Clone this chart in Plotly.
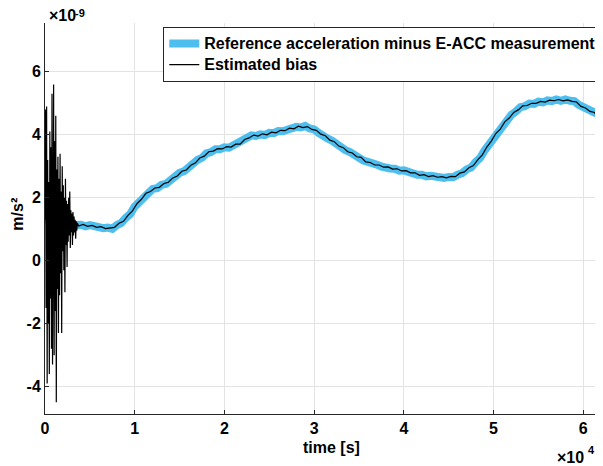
import numpy as np
import plotly.graph_objects as go

# Reference acceleration minus E-ACC measurement (units 1e-9 m/s^2), sampled every 500 s from t=0
ref_step = 500
ref_vals = [
    1.32, 1.27, 1.26, 1.20, 1.22, 1.17, 1.18, 1.13, 1.14, 1.09,
    1.13, 1.08, 1.09, 1.03, 1.05, 1.01, 1.13, 1.20, 1.36, 1.48,
    1.72, 1.86, 2.08, 2.16, 2.28, 2.30, 2.41, 2.44, 2.58, 2.64,
    2.79, 2.84, 2.97, 3.04, 3.20, 3.27, 3.41, 3.45, 3.54, 3.54,
    3.60, 3.59, 3.67, 3.68, 3.78, 3.86, 3.98, 3.96, 4.01, 3.99,
    4.06, 4.05, 4.12, 4.11, 4.18, 4.19, 4.25, 4.23, 4.28, 4.20,
    4.17, 4.06, 4.00, 3.88, 3.81, 3.69, 3.63, 3.51, 3.45, 3.34,
    3.29, 3.18, 3.14, 3.06, 3.05, 2.99, 2.99, 2.93, 2.92, 2.86,
    2.87, 2.81, 2.80, 2.73, 2.73, 2.68, 2.70, 2.66, 2.67, 2.63,
    2.66, 2.65, 2.73, 2.78, 2.90, 2.96, 3.13, 3.26, 3.50, 3.68,
    3.96, 4.08, 4.32, 4.45, 4.64, 4.74, 4.88, 4.91, 4.99, 4.98,
    5.05, 5.03, 5.09, 5.07, 5.12, 5.08, 5.12, 5.08, 5.07, 4.95,
    4.88, 4.77, 4.73, 4.64, 4.60,
]

# Estimated bias: early convergence transient, sampled every 60 s from t=0
bias_early_step = 60
bias_early_vals = [
    1.3, 4.8, -1.5, 4.9, -3.9, 3.2, -2.0, 2.5, -3.6, 4.1,
    -1.2, 3.6, -2.8, 5.3, -3.3, 2.0, 5.6, -3.0, 3.8, -1.6,
    4.6, -4.5, 2.9, -0.9, 3.3, -2.3, 2.6, -1.1, 3.4, -0.4,
    2.2, -2.3, 3.0, 0.3, 2.4, -0.3, 2.0, -1.0, 2.6, 0.5,
    1.9, -0.2, 1.8, 0.6, 2.0, 0.8, 2.2, 0.4, 1.6, 0.9,
    1.5, 0.5, 1.55, 0.8, 1.4, 0.9, 1.3, 0.7, 1.25, 0.95,
    1.2,
]

# Estimated bias after convergence, sampled every 500 s from t=3750
bias_late_start = 3750
bias_late_step = 500
bias_late_vals = [
    1.10, 1.15, 1.09, 1.12, 1.06, 1.08, 1.02, 1.05, 1.06, 1.19,
    1.25, 1.44, 1.58, 1.81, 1.95, 2.14, 2.20, 2.31, 2.33, 2.45,
    2.49, 2.63, 2.69, 2.84, 2.88, 3.03, 3.10, 3.26, 3.32, 3.46,
    3.48, 3.56, 3.55, 3.62, 3.61, 3.70, 3.70, 3.85, 3.90, 3.99,
    3.96, 4.03, 4.00, 4.08, 4.06, 4.14, 4.13, 4.21, 4.19, 4.27,
    4.23, 4.26, 4.17, 4.14, 4.02, 3.97, 3.83, 3.78, 3.64, 3.59,
    3.46, 3.42, 3.30, 3.28, 3.14, 3.12, 3.04, 3.04, 2.97, 2.98,
    2.91, 2.92, 2.85, 2.86, 2.79, 2.79, 2.71, 2.73, 2.67, 2.70,
    2.65, 2.67, 2.63, 2.68, 2.67, 2.78, 2.82, 2.95, 3.02, 3.21,
    3.36, 3.61, 3.80, 4.04, 4.18, 4.41, 4.53, 4.71, 4.79, 4.92,
    4.93, 5.00, 5.00, 5.06, 5.04, 5.10, 5.08, 5.12, 5.08, 5.11,
    5.06, 5.04, 4.90, 4.85, 4.74, 4.71, 4.45,
]

x_ticks = [0, 1, 2, 3, 4, 5, 6]          # x 1e4 s
y_ticks = [-4, -2, 0, 2, 4, 6]           # x 1e-9 m/s^2

ref_t = np.arange(len(ref_vals)) * ref_step
bias_t = np.concatenate([
    np.arange(len(bias_early_vals)) * bias_early_step,
    bias_late_start + np.arange(len(bias_late_vals)) * bias_late_step,
])
bias_v = np.array(bias_early_vals + bias_late_vals)

FONT = "Liberation Sans, Arial, sans-serif"
AXC = "#262626"
FS = 16
FS_EXP = 11

def big(s):
    return f'<span style="font-size:{FS}px"><b>{s}</b></span>'

fig = go.Figure()
fig.add_trace(go.Scatter(
    x=ref_t, y=np.array(ref_vals) * 1e-9, mode="lines",
    name=big("Reference acceleration minus E-ACC measurement"),
    line=dict(color="#4DBEEE", width=8),
))
fig.add_trace(go.Scatter(
    x=bias_t, y=bias_v * 1e-9, mode="lines",
    name=big("Estimated bias"),
    line=dict(color="black", width=1.2),
))

def txt(text, x, y, xanchor="left", size=FS, angle=0):
    return dict(text=f"<b>{text}</b>", xref="paper", yref="paper",
                x=x, y=y, xanchor=xanchor, yanchor="middle", textangle=angle,
                showarrow=False, font=dict(family=FONT, size=size, color="black"))

# page body has an 8px margin: figure is 8px smaller and margins reduced accordingly
fig.update_layout(
    width=595, height=458,
    margin=dict(l=37, r=0, t=15, b=52, autoexpand=False),
    paper_bgcolor="white", plot_bgcolor="white",
    font=dict(family=FONT, size=FS, color="black"),
    showlegend=True,
    legend=dict(
        x=0.212, y=0.99, xanchor="left", yanchor="top",
        bgcolor="white", bordercolor=AXC, borderwidth=1,
        font=dict(family=FONT, size=14, color="black"),
        itemwidth=30, tracegroupgap=0,
    ),
    xaxis=dict(
        range=[0, 62200], automargin=False,
        tickvals=[v * 1e4 for v in x_ticks],
        ticktext=[f"<b>{v}</b>" for v in x_ticks],
        showgrid=True, gridcolor="#e3e3e3", gridwidth=1,
        zeroline=False, showline=True, linecolor=AXC, linewidth=1,
        ticks="inside", ticklen=4, tickcolor=AXC,
        mirror=False,
        tickfont=dict(size=FS, color="black"),
    ),
    yaxis=dict(
        range=[-4.87e-9, 7.55e-9], automargin=False,
        tickvals=[v * 1e-9 for v in y_ticks],
        ticktext=[f"<b>{v}</b>" for v in y_ticks],
        showgrid=True, gridcolor="#e3e3e3", gridwidth=1,
        zeroline=False, showline=True, linecolor=AXC, linewidth=1,
        ticks="inside", ticklen=4, tickcolor=AXC,
        mirror=False,
        tickfont=dict(size=FS, color="black"),
    ),
    annotations=[
        txt("×10", 0.0035, 1.018),
        txt("-9", 0.050, 1.026, size=FS_EXP),
        txt("×10", 0.969, -0.112, xanchor="right"),
        txt("4", 0.969, -0.092, size=FS_EXP),
        txt("time [s]", 0.514, -0.085, xanchor="center"),
        txt("m/s²", -0.050, 0.51, xanchor="center", angle=-90),
    ],
)

fig.write_html("out.html")
